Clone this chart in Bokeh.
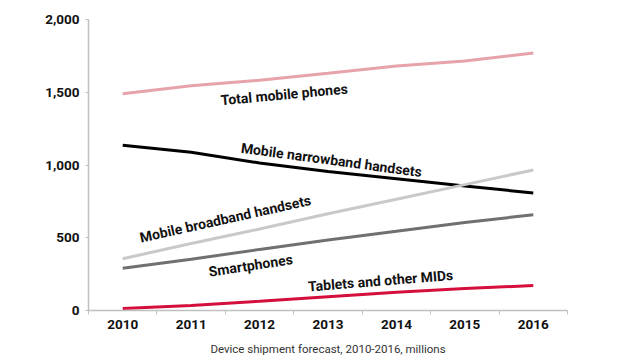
import math
from bokeh.plotting import figure
from bokeh.models import Range1d, FixedTicker, NumeralTickFormatter, ColumnDataSource
from bokeh.core.properties import value
from bokeh.embed import file_html
from bokeh.resources import INLINE

years = [2010, 2011, 2012, 2013, 2014, 2015, 2016]
total_mobile = [1490, 1545, 1582, 1630, 1680, 1715, 1770]
narrowband = [1135, 1088, 1014, 955, 905, 855, 808]
broadband = [356, 460, 560, 665, 765, 865, 966]
smartphones = [290, 352, 420, 485, 545, 605, 658]
tablets = [14, 35, 64, 95, 125, 152, 171]

series_names = ["Total mobile phones", "Mobile narrowband handsets", "Mobile broadband handsets",
                "Smartphones", "Tablets and other MIDs"]
series_values = [total_mobile, narrowband, broadband, smartphones, tablets]
series_colors = ["#e6a3aa", "#000000", "#c9c9c9", "#707070", "#d40f3c"]

# label anchors (data units) and rotation (degrees)
label_x = [2012.36, 2013.05, 2011.5, 2011.87, 2013.77]
label_y = [1485, 1035, 630, 310, 205]
label_angle = [5.3, -7.7, 12.5, 8.6, 4.6]

y_ticks = [0, 500, 1000, 1500, 2000]

p = figure(width=625, height=358, output_backend="svg", toolbar_location=None,
           x_range=Range1d(2009.5, 2016.5), y_range=Range1d(0, 2000),
           min_border_left=88, min_border_right=58, min_border_top=19, min_border_bottom=47)
p.outline_line_color = None
p.xgrid.grid_line_color = None
p.ygrid.grid_line_color = None
p.background_fill_color = "white"
p.border_fill_color = "white"

for vals, col in zip(series_values, series_colors):
    p.line(years, vals, line_color=col, line_width=3)

src = ColumnDataSource(dict(x=label_x, y=label_y, text=series_names,
                            angle=[math.radians(a) for a in label_angle]))
p.text(x="x", y="y", text="text", angle="angle", source=src,
       text_font=value("Roboto"), text_font_style="bold", text_font_size="14px",
       text_color="#111111", text_align="center", text_baseline="middle")

ax = p.xaxis[0]
ax.ticker = FixedTicker(ticks=years, minor_ticks=[2009.5 + i for i in range(8)])
ax.major_tick_out = 0
ax.major_tick_in = 0
ax.minor_tick_out = 4
ax.minor_tick_in = 0
ax.minor_tick_line_color = "#c0c0c0"
ax.axis_line_color = "#c0c0c0"
ax.axis_line_width = 1.5
ax.major_label_text_font = "Roboto"
ax.major_label_text_font_style = "bold"
ax.major_label_text_font_size = "13.5px"
ax.major_label_text_color = "#111111"
ax.major_label_standoff = 5
ax.axis_label = "Device shipment forecast, 2010-2016, millions"
ax.axis_label_text_font = "Roboto"
ax.axis_label_text_font_style = "normal"
ax.axis_label_text_font_size = "11.5px"
ax.axis_label_text_color = "#333333"
ax.axis_label_standoff = 10

ay = p.yaxis[0]
ay.ticker = FixedTicker(ticks=y_ticks, minor_ticks=[])
ay.formatter = NumeralTickFormatter(format="0,0")
ay.major_tick_out = 3
ay.major_tick_in = 0
ay.major_tick_line_color = "#c0c0c0"
ay.axis_line_color = "#c0c0c0"
ay.axis_line_width = 1.5
ay.major_label_text_font = "Roboto"
ay.major_label_text_font_style = "bold"
ay.major_label_text_font_size = "13.5px"
ay.major_label_text_color = "#111111"
ay.major_label_standoff = 6

open("out.html", "w").write(file_html(p, INLINE))
